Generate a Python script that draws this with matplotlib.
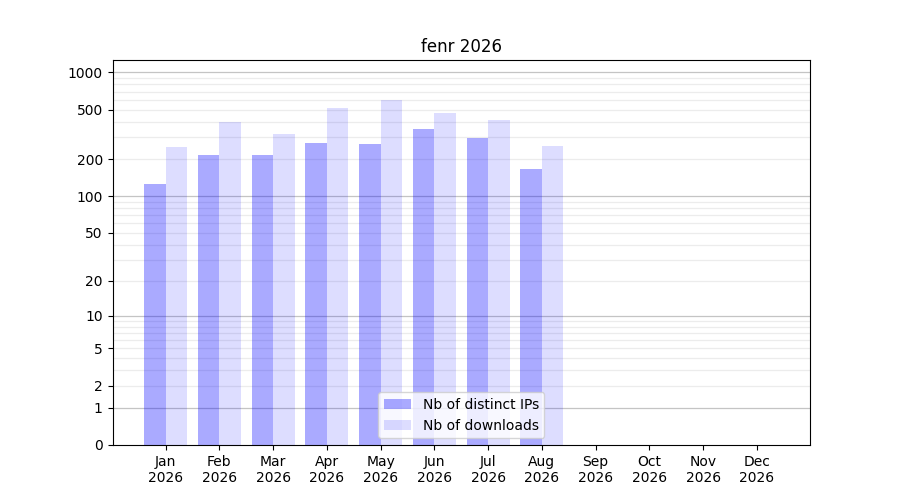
import numpy as np
import matplotlib
matplotlib.use('Agg')
import matplotlib.pyplot as plt

months = ['Jan', 'Feb', 'Mar', 'Apr', 'May', 'Jun',
          'Jul', 'Aug', 'Sep', 'Oct', 'Nov', 'Dec']
year = 2026
distinct_ips = [126, 217, 217, 271, 266, 352, 298, 167, 0, 0, 0, 0]
downloads = [252, 396, 321, 512, 605, 475, 417, 257, 0, 0, 0, 0]
ytick_values = [0, 1, 2, 5, 10, 20, 50, 100, 200, 500, 1000]


def fwd(v):
    return np.log10(1 + np.asarray(v, dtype=float))


def inv(v):
    return 10 ** np.asarray(v, dtype=float) - 1


fig, ax = plt.subplots(figsize=(9, 5), dpi=100)
x = np.arange(len(months))
ax.bar(x - 0.2, distinct_ips, width=0.4, color='blue', alpha=1 / 3,
       label='Nb of distinct IPs')
ax.bar(x + 0.2, downloads, width=0.4, color='blue', alpha=0.135,
       label='Nb of downloads')

ax.set_yscale('function', functions=(fwd, inv))
ax.set_ylim(0, 1260)
ax.set_yticks(ytick_values)
ax.set_yticklabels([str(v) for v in ytick_values])

# grid: strong at decades, light in between
for dec in [1, 10, 100, 1000]:
    ax.axhline(dec, color='#c4c4c4', lw=0.9, zorder=0.5)
for dec in [1, 10, 100]:
    for k in range(2, 10):
        ax.axhline(k * dec, color='#ececec', lw=0.9, zorder=0.5)

ax.set_xticks(x)
ax.set_xticklabels([f'{m}\n{year}' for m in months])
ax.set_title(f'fenr {year}')
ax.legend(loc='lower center')

fig.savefig('out.png', dpi=100)
